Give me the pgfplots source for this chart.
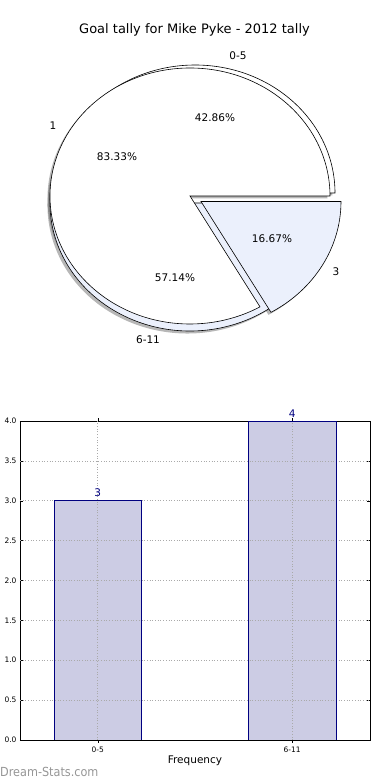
\documentclass[border=0pt]{standalone}
\usepackage{pgfplots}
\pgfplotsset{compat=1.18}
\usepackage{pgfplotstable}
\usepackage{fontspec}
\setmainfont{DejaVu Sans}
\definecolor{pieblue}{RGB}{235,240,252}
\definecolor{barfill}{RGB}{204,204,228}
\definecolor{navy}{RGB}{0,0,128}
\definecolor{wm}{RGB}{150,150,150}
\definecolor{gridc}{RGB}{170,170,170}
\pgfplotstableread{
x freq
0 3
1 4
}\bardata
% outer pie (0-5, 6-11) and inner pie (1, 3) counts
\def\pieAa{3}\def\pieAb{4}
\def\pieBa{5}\def\pieBb{1}
\newcommand{\piewedge}[7]{%
  \path[#1] (axis cs:#2,#3) -- ++(#4:#6pt and #7pt)
    arc[start angle=#4, end angle=#5, x radius=#6pt, y radius=#7pt] -- cycle;}
\begin{document}
\begin{tikzpicture}
\path[use as bounding box] (0pt,0pt) rectangle (390pt,780pt);
\pgfmathsetmacro\angA{360*\pieAa/(\pieAa+\pieAb)}
\pgfmathsetmacro\angB{360*\pieBa/(\pieBa+\pieBb)}
\begin{axis}[at={(0pt,390pt)}, anchor=south west, scale only axis,
  width=390pt, height=390pt, xmin=0, xmax=390, ymin=390, ymax=780,
  hide axis, clip=false]
% shadows
\piewedge{fill=black!70, opacity=0.4}{192.5}{584.5}{0}{\angA}{140}{128}
\piewedge{fill=black!70, opacity=0.4}{187.5}{574.5}{\angA}{360}{140}{128}
\piewedge{fill=black!70, opacity=0.4}{187.5}{581.5}{0}{\angB}{140}{128}
\piewedge{fill=black!70, opacity=0.4}{198.5}{576}{\angB}{360}{140}{128}
% outer pie
\piewedge{fill=white, draw=black, line width=0.6pt}{195}{587}{0}{\angA}{140}{128}
\piewedge{fill=pieblue, draw=black, line width=0.6pt}{190}{577}{\angA}{360}{140}{128}
% inner pie
\piewedge{fill=white, draw=black, line width=0.6pt}{190}{584}{0}{\angB}{140}{128}
\piewedge{fill=pieblue, draw=black, line width=0.6pt}{201}{578.5}{\angB}{360}{140}{128}
% labels
\node[font=\fontsize{10.5}{12}\selectfont] at (axis cs:238,724) {0-5};
\node[font=\fontsize{10.5}{12}\selectfont] at (axis cs:215,662) {42.86\%};
\node[font=\fontsize{10.5}{12}\selectfont] at (axis cs:148,440) {6-11};
\node[font=\fontsize{10.5}{12}\selectfont] at (axis cs:175,502) {57.14\%};
\node[font=\fontsize{10.5}{12}\selectfont] at (axis cs:53,654) {1};
\node[font=\fontsize{10.5}{12}\selectfont] at (axis cs:117,623) {83.33\%};
\node[font=\fontsize{10.5}{12}\selectfont] at (axis cs:336,508) {3};
\node[font=\fontsize{10.5}{12}\selectfont] at (axis cs:272,541) {16.67\%};
\node[font=\fontsize{13}{15}\selectfont] at (axis cs:194.5,750) {Goal tally for Mike Pyke - 2012 tally};
\end{axis}
\begin{axis}[at={(20pt,40pt)}, anchor=south west, scale only axis,
  width=350pt, height=319pt,
  xmin=-0.4, xmax=1.4, ymin=0, ymax=4,
  ybar, bar width=0.45, bar shift=0pt,
  xtick={0,1}, xticklabels={0-5,6-11},
  ytick={0,0.5,1,1.5,2,2.5,3,3.5,4},
  yticklabel style={/pgf/number format/.cd, fixed, fixed zerofill, precision=1},
  /pgf/number format/assume math mode=true,
  tick label style={font=\fontsize{7.5}{9}\selectfont},
  tick style={black, line width=0.5pt}, major tick length=3pt,
  axis line style={line width=0.8pt},
  xlabel={Frequency}, xlabel style={font=\fontsize{10.5}{12}\selectfont, yshift=3pt},
  ]
\addplot[fill=barfill, draw=navy, line width=0.7pt, nodes near coords,
  nodes near coords style={font=\fontsize{10.5}{12}\selectfont, text=navy}]
  table[x=x, y=freq] {\bardata};
\pgfplotsinvokeforeach{0.5,1.0,1.5,2.0,2.5,3.0,3.5}{
  \draw[dotted, gridc, line width=0.7pt] (axis cs:-0.4,#1) -- (axis cs:1.4,#1);}
\pgfplotsinvokeforeach{0,1}{
  \draw[dotted, gridc, line width=0.7pt] (axis cs:#1,0) -- (axis cs:#1,4);}
\addplot[fill=none, draw=navy, line width=0.7pt]
  table[x=x, y=freq] {\bardata};
\end{axis}
\node[anchor=base west, text=wm, inner sep=0pt] at (0pt,3pt)
  {\scalebox{0.9}[1]{\fontsize{12.5}{14}\selectfont Dream-Stats.com}};
\end{tikzpicture}
\end{document}
